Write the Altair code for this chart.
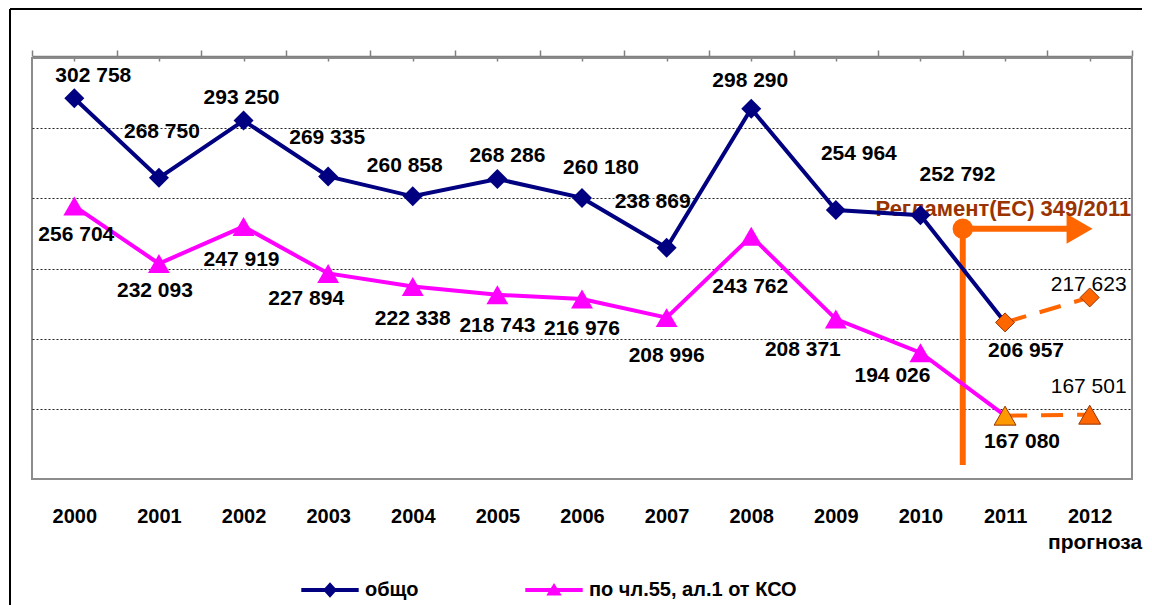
import altair as alt
import pandas as pd

# ---------------- data ----------------
YEARS = [2000, 2001, 2002, 2003, 2004, 2005, 2006, 2007, 2008, 2009, 2010, 2011, 2012]
TOTAL = [302758, 268750, 293250, 269335, 260858, 268286, 260180, 238869, 298290, 254964, 252792, 206957, 217623]
ART55 = [256704, 232093, 247919, 227894, 222338, 218743, 216976, 208996, 243762, 208371, 194026, 167080, 167501]
SERIES = ["общо", "по чл.55, ал.1 от КСО"]
FORECAST_LABEL = "прогноза"
REG_TEXT = "Регламент(ЕС) 349/2011"

# label offsets in pixels (dx right, dy down) from each point
TOTAL_DX = [19, 3, -2, -1, -8, 10, 19, -14, -1, 23, 37, 21, -1]
TOTAL_DY = [-22, -46, -23, -38, -30, -23, -30, -46, -28, -56, -40, 29, -12]
ART55_DX = [2, -4, -2, -22, 0, 0, 0, 0, -1, -33, -28, 17, -1]
ART55_DY = [29, 27, 33, 26, 33, 31, 30, 38, 51, 31, 23, 26, -28]

# ---------------- layout ----------------
W, H = 1100, 421
X_DOM = [1999.5, 2012.5]
Y_DOM = [140000, 320000]
GRID = [170000, 200000, 230000, 260000, 290000]
PX_X = (X_DOM[1] - X_DOM[0]) / W
PX_Y = (Y_DOM[1] - Y_DOM[0]) / H
FONT = "Liberation Sans"
NAVY = "#000080"
MAGENTA = "#FF00FF"
ORANGE = "#FF6600"
BROWN = "#993300"

rows = []
for s, vals, dxs, dys in [(SERIES[0], TOTAL, TOTAL_DX, TOTAL_DY), (SERIES[1], ART55, ART55_DX, ART55_DY)]:
    for y, v, dx, dy in zip(YEARS, vals, dxs, dys):
        rows.append({
            "year": y, "series": s, "value": v,
            "label": f"{v:,}".replace(",", " "),
            "lx": y + dx * PX_X, "ly": v - dy * PX_Y,
        })
df = pd.DataFrame(rows)

# annotation (regulation marker between 2010 and 2011)
REG_X = 2010.5
REG_TOP = 247000
REG_BOTTOM = 146000
ARROW_X = 2011.88
ann = pd.DataFrame([{"x": REG_X, "x2": ARROW_X - 0.1, "xa": ARROW_X, "y": REG_TOP, "y0": REG_BOTTOM,
                     "tx": 2012.49, "ty": 252400, "t": REG_TEXT}])
# "прогноза" note under the 2012 label
note = pd.DataFrame([{"x": 2012.62, "y": Y_DOM[0] - 64 * PX_Y, "t": FORECAST_LABEL}])

xs = alt.Scale(domain=X_DOM, nice=False, zero=False)
ys = alt.Scale(domain=Y_DOM, nice=False, zero=False)
YAX = alt.Axis(values=GRID, labels=False, ticks=False, domain=False, grid=True,
               gridColor="#222222", gridDash=[2, 2], gridWidth=1, title=None)


def X(field, axis=None):
    if axis is None:
        return alt.X(field, type="quantitative", scale=xs, axis=None)
    return alt.X(field, type="quantitative", scale=xs, axis=axis)


def Y(field):
    return alt.Y(field, type="quantitative", scale=ys, axis=YAX, title=None)


LABEL_AXIS = alt.Axis(values=YEARS, format="d", ticks=False, domain=False, grid=False,
                      labelFont=FONT, labelFontSize=20, labelFontWeight="bold", labelColor="black",
                      labelPadding=27, labelFlush=False, labelOverlap=False, title=None)
BOUND_AXIS = alt.Axis(values=[y - 0.5 for y in YEARS] + [YEARS[-1] + 0.5], labels=False, ticks=True,
                      tickSize=6, tickColor="#808080", tickWidth=1.5, domain=True,
                      domainColor="#808080", domainWidth=1.5, offset=2, grid=False, title=None)
CENTER_AXIS = alt.Axis(values=YEARS, labels=False, ticks=True, tickSize=3, tickColor="#808080",
                       tickWidth=1.5, domain=False, offset=-3, grid=False, title=None)

base = alt.Chart(df)
one = pd.DataFrame({"a": [0]})

# outer frame: top and left edges only (the rest lies outside the picture)
frame_top = alt.Chart(one).mark_rule(color="black", strokeWidth=2).encode(
    x=alt.value(-22), x2=alt.value(1110), y=alt.value(-49))
frame_left = alt.Chart(one).mark_rule(color="black", strokeWidth=2).encode(
    x=alt.value(-22), y=alt.value(-49), y2=alt.value(560))

reg_v = alt.Chart(ann).mark_rule(color=ORANGE, strokeWidth=6).encode(
    x=X("x"), y=Y("y"), y2="y0")
reg_h = alt.Chart(ann).mark_rule(color=ORANGE, strokeWidth=6).encode(
    x=X("x"), x2="x2", y=Y("y"))
reg_dot = alt.Chart(ann).mark_point(shape="circle", filled=True, size=415, color=ORANGE, opacity=1).encode(
    x=X("x"), y=Y("y"))
reg_head = alt.Chart(ann).mark_point(shape="triangle-right", filled=True, size=900, color=ORANGE, opacity=1).encode(
    x=X("xa"), y=Y("y"))
reg_text = alt.Chart(ann).mark_text(font=FONT, fontSize=22, fontWeight="bold", color=BROWN,
                                    align="right", baseline="alphabetic").encode(
    x=X("tx"), y=Y("ty"), text="t:N")
note_text = alt.Chart(note).mark_text(font=FONT, fontSize=21, fontWeight="bold", color="black",
                                      align="right", baseline="middle").encode(
    x=X("x"), y=Y("y"), text="t:N")

solid_total = base.transform_filter((alt.datum.series == SERIES[0]) & (alt.datum.year <= 2011)).mark_line(
    color=NAVY, strokeWidth=4).encode(x=X("year", LABEL_AXIS), y=Y("value"))
solid_art = base.transform_filter((alt.datum.series == SERIES[1]) & (alt.datum.year <= 2011)).mark_line(
    color=MAGENTA, strokeWidth=4).encode(x=X("year", BOUND_AXIS), y=Y("value"))
dashed = base.transform_filter(alt.datum.year >= 2011).mark_line(
    color=ORANGE, strokeWidth=4, strokeDash=[22, 14]).encode(x=X("year", CENTER_AXIS), y=Y("value"), detail="series:N")

pts_total = base.transform_filter((alt.datum.series == SERIES[0]) & (alt.datum.year <= 2010)).mark_point(
    shape="diamond", filled=True, size=400, color=NAVY, opacity=1).encode(x=X("year"), y=Y("value"))
pts_art = base.transform_filter((alt.datum.series == SERIES[1]) & (alt.datum.year <= 2010)).mark_point(
    shape="triangle-up", filled=True, size=480, color=MAGENTA, opacity=1).encode(x=X("year"), y=Y("value"))
pts_fc_total = base.transform_filter((alt.datum.series == SERIES[0]) & (alt.datum.year >= 2011)).mark_point(
    shape="diamond", filled=True, size=360, fill=ORANGE, stroke=BROWN, strokeWidth=1, opacity=1).encode(
    x=X("year"), y=Y("value"))
pts_fc_art11 = base.transform_filter((alt.datum.series == SERIES[1]) & (alt.datum.year == 2011)).mark_point(
    shape="triangle-up", filled=True, size=480, fill="#FF9900", stroke=BROWN, strokeWidth=1, opacity=1).encode(
    x=X("year"), y=Y("value"))
pts_fc_art12 = base.transform_filter((alt.datum.series == SERIES[1]) & (alt.datum.year == 2012)).mark_point(
    shape="triangle-up", filled=True, size=480, fill=ORANGE, stroke=BROWN, strokeWidth=1, opacity=1).encode(
    x=X("year"), y=Y("value"))

labels_bold = base.transform_filter(alt.datum.year <= 2011).mark_text(
    font=FONT, fontSize=21, fontWeight="bold", color="black", align="center", baseline="middle").encode(
    x=X("lx"), y=Y("ly"), text="label:N")
labels_norm = base.transform_filter(alt.datum.year >= 2012).mark_text(
    font=FONT, fontSize=21, fontWeight="normal", color="black", align="center", baseline="middle").encode(
    x=X("lx"), y=Y("ly"), text="label:N")

# legend (custom line+marker symbols); the points themselves fall outside the plot and are clipped
P_DIAMOND = "M-2.05,-0.14L2.05,-0.14L2.05,0.14L-2.05,0.14Z M0,-0.55L0.5,0L0,0.55L-0.5,0Z"
P_TRIANGLE = "M-2.05,-0.14L2.05,-0.14L2.05,0.14L-2.05,0.14Z M0,-0.5L0.55,0.4L-0.55,0.4Z"
LEG = alt.Legend(title=None, orient="none", legendX=284, legendY=518, direction="horizontal",
                 labelFont=FONT, labelFontSize=20, labelFontWeight="bold", labelColor="black",
                 labelOffset=21, symbolSize=784, columnPadding=106, padding=0, labelLimit=400,
                 symbolStrokeWidth=0)
legend_layer = base.transform_filter(alt.datum.year == 2000).transform_calculate(
    off=str(Y_DOM[0] - 60000)).mark_point(filled=True, size=784, clip=True, opacity=1).encode(
    x=X("year"), y=Y("off:Q"),
    color=alt.Color("series:N", scale=alt.Scale(domain=SERIES, range=[NAVY, MAGENTA]), legend=LEG),
    shape=alt.Shape("series:N", scale=alt.Scale(domain=SERIES, range=[P_DIAMOND, P_TRIANGLE]), legend=LEG),
)

chart = alt.layer(
    frame_top, frame_left, reg_v, reg_h, reg_dot, reg_head, reg_text, note_text,
    solid_total, solid_art, dashed,
    pts_total, pts_art, pts_fc_total, pts_fc_art11, pts_fc_art12,
    labels_bold, labels_norm, legend_layer,
).resolve_axis(x="independent").properties(
    width=W, height=H,
    padding={"left": 24, "top": 50, "right": 12, "bottom": 126},
    autosize=alt.AutoSizeParams(type="none"),
    background="white",
).configure_view(stroke="#8c8c8c", strokeWidth=2)

chart.save("out.html", embed_options={"renderer": "svg", "actions": False})
